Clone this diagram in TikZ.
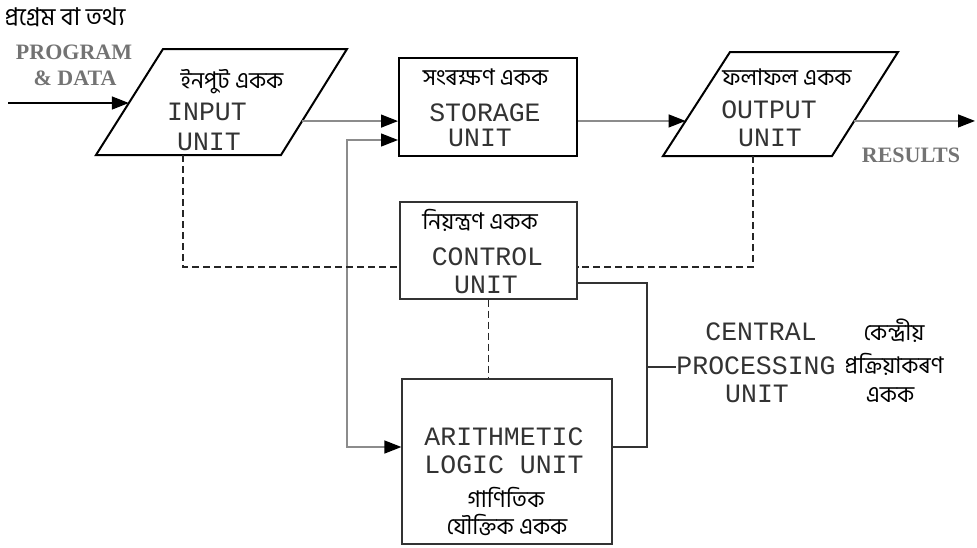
\documentclass[tikz,border=0pt]{standalone}
\usepackage{fontspec}
\setmainfont{Liberation Serif}
\setmonofont{Liberation Mono}
\newfontfamily\bnfont[Script=Bengali]{Hind Siliguri}
\usepackage{tikz}
\usetikzlibrary{arrows.meta,calc}

\begin{document}
\begin{tikzpicture}[x=1pt,y=-1pt,>={Triangle[length=17pt,width=13pt,color=black]},
		io line/.style={draw,line width=2pt,line join=miter},
		unit box/.style={rectangle,draw,inner sep=0pt},
		en text/.style={font=\fontsize{26.5}{26.5}\ttfamily,text=black!80,inner sep=0pt},
		bn text/.style={font=\fontsize{23}{23}\bnfont,inner sep=0pt},
		side text/.style={font=\fontsize{22}{22}\bfseries,text=black!55,inner sep=0pt},
		gray line/.style={draw=black!45,line width=1.3pt},
		dash line/.style={draw=black!85,line width=1.2pt,dash pattern=on 7pt off 4pt},
		cpu line/.style={draw=black!80,line width=1.3pt}]
	\useasboundingbox (0,0) rectangle (977,547);
	
	% input and output units (parallelograms)
	\coordinate (in-bl) at (96,155);
	\coordinate (in-tl) at (163,49);
	\coordinate (in-tr) at (347,49);
	\coordinate (in-br) at (281,155);
	\coordinate (out-bl) at (663,156);
	\coordinate (out-tl) at (730,52);
	\coordinate (out-tr) at (898,52);
	\coordinate (out-br) at (832,156);
	\draw[io line] (in-bl) -- (in-tl) -- (in-tr) -- (in-br) -- cycle;
	\draw[io line] (out-bl) -- (out-tl) -- (out-tr) -- (out-br) -- cycle;
	
	% boxes
	\node[unit box,line width=2pt,minimum width=178pt,minimum height=98pt] (storage) at (488,107) {};
	\node[unit box,draw=black!80,line width=1.2pt,minimum width=177pt,minimum height=97pt] (control) at (488.5,250.5) {};
	\node[unit box,draw=black!80,line width=1.2pt,minimum width=210pt,minimum height=165pt] (alu) at (507,461.5) {};
	
	% texts
	\node[bn text,font=\fontsize{24.5}{24.5}\bnfont] (prog-bn) at (65,17) {প্রগ্রেম বা তথ্য};
	\node[side text] (prog-en1) at (74,52) {PROGRAM};
	\node[side text] (prog-en2) at (75,78) {\& DATA};
	\node[side text] (results) at (911,155) {RESULTS};
	
	\node[bn text] (in-bn) at (232,82) {ইনপুট একক};
	\node[en text] (in-en1) at (207,112) {INPUT};
	\node[en text] (in-en2) at (209,142) {UNIT};
	
	\node[bn text] (st-bn) at (485.5,77) {সংৰক্ষণ একক};
	\node[en text] (st-en1) at (485,113) {STORAGE};
	\node[en text] (st-en2) at (480,138) {UNIT};
	
	\node[bn text] (out-bn) at (787,77) {ফলাফল একক};
	\node[en text] (out-en1) at (769,110) {OUTPUT};
	\node[en text] (out-en2) at (770,138) {UNIT};
	
	\node[bn text] (ctl-bn) at (480,220) {নিয়ন্ত্রণ একক};
	\node[en text] (ctl-en1) at (487.5,257) {CONTROL};
	\node[en text] (ctl-en2) at (486,285) {UNIT};
	
	\node[en text] (alu-en1) at (504,437) {ARITHMETIC};
	\node[en text] (alu-en2) at (504,465) {LOGIC UNIT};
	\node[bn text] (alu-bn1) at (506,497) {গাণিতিক};
	\node[bn text] (alu-bn2) at (507,525) {যৌক্তিক একক};
	
	\node[en text] (cpu-en1) at (761,332) {CENTRAL};
	\node[en text] (cpu-en2) at (756,366) {PROCESSING};
	\node[en text] (cpu-en3) at (757,394) {UNIT};
	\node[bn text] (cpu-bn1) at (894,331) {কেন্দ্রীয়};
	\node[bn text] (cpu-bn2) at (894,364) {প্রক্রিয়াকৰণ};
	\node[bn text] (cpu-bn3) at (890,395) {একক};
	
	% connectors
	\coordinate (src) at (8,103);
	\coordinate (in-left) at ($(in-bl)!0.49!(in-tl)$);
	\coordinate (in-right) at ($(in-br)!0.32!(in-tr)$);
	\coordinate (out-left) at ($(out-bl)!0.337!(out-tl)$);
	\coordinate (out-right) at ($(out-br)!0.337!(out-tr)$);
	\coordinate (in-foot) at (183,155);
	\coordinate (out-foot) at (753,156);
	\coordinate (res) at (975,121);
	\coordinate (bus) at (347,290);
	\coordinate (cpu) at (647,367);
	
	\draw[->,line width=1.5pt] (src) -- (src -| in-left);
	\draw[gray line,->] (in-right) -- (in-right -| storage.west);
	\draw[gray line,->] (out-left -| storage.east) -- (out-left);
	\draw[gray line,->] (out-right) -- (out-right -| res);
	\draw[gray line,<->] ([yshift=-33pt]storage.west) -| (bus) |- ([yshift=14.5pt]alu.west);
	
	\draw[dash line] (in-foot) |- ([yshift=-16.5pt]control.west);
	\draw[dash line] (out-foot) |- ([yshift=-16.5pt]control.east);
	\draw[dash line] (control.south) -- (control.south |- alu.north);
	
	\draw[cpu line] ([yshift=-32.5pt]control.east) -| (cpu) |- ([yshift=14.5pt]alu.east);
	\draw[cpu line] (cpu) -- (cpu-en2.west |- cpu);
\end{tikzpicture}
\end{document}
